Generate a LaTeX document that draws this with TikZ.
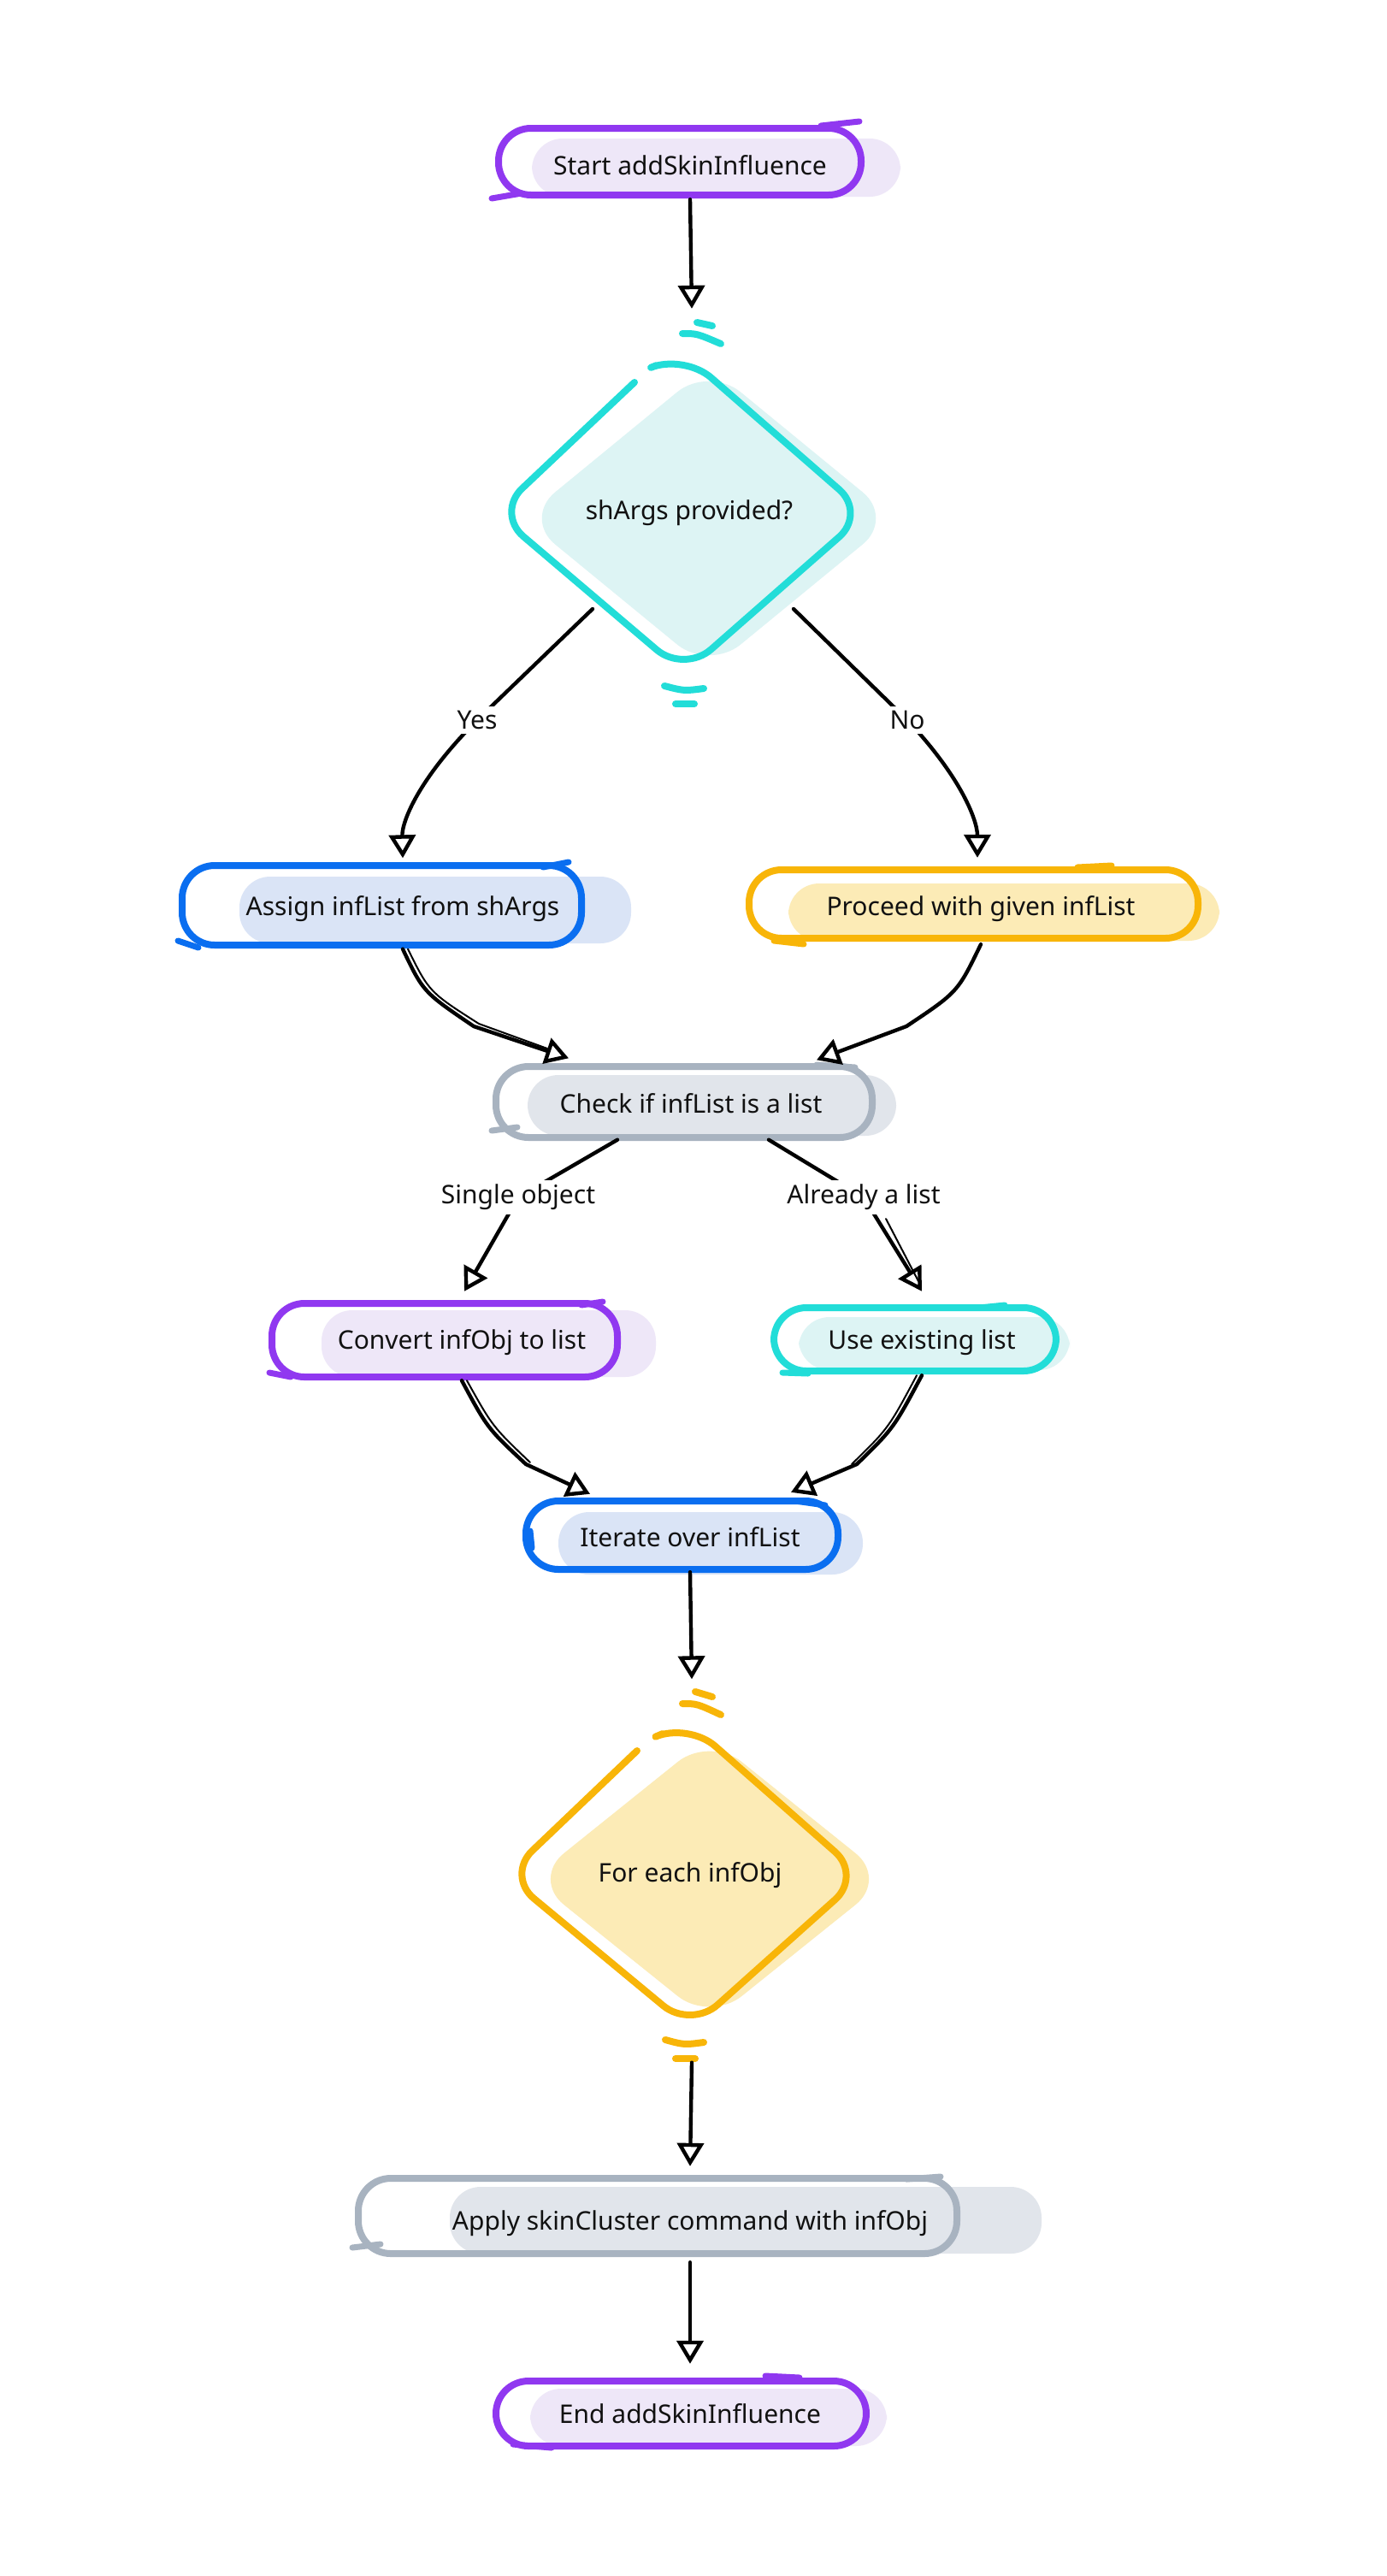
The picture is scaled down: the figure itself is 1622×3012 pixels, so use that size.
\documentclass[tikz,border=0pt]{standalone}
\usepackage{fontspec}
\setmainfont{Noto Sans}
\usetikzlibrary{arrows.meta,calc}
\definecolor{purS}{HTML}{9038F0}
\definecolor{purF}{HTML}{EEE7F8}
\definecolor{cyaS}{HTML}{22DDD8}
\definecolor{cyaF}{HTML}{DDF4F4}
\definecolor{bluS}{HTML}{0A6EF0}
\definecolor{bluF}{HTML}{DAE4F6}
\definecolor{yelS}{HTML}{F8B508}
\definecolor{yelF}{HTML}{FCEBB6}
\definecolor{graS}{HTML}{A8B3C0}
\definecolor{graF}{HTML}{E1E5EB}
\definecolor{ink}{HTML}{111111}
\begin{document}
\begin{tikzpicture}[x=1pt,y=-1pt,
  txt/.style={font=\fontsize{30}{34}\selectfont, text=ink, inner sep=0pt},
  lbl/.style={txt, fill=white, inner sep=5pt},
  arr/.style={draw=black, line width=4.4pt, line cap=round, line join=round,
    -{Triangle[open,length=27pt,width=31pt,line width=4.4pt]}},
  thin/.style={draw=black, line width=2pt, line cap=round},
  ol/.style={line width=8pt, line cap=round, line join=round, rounded corners=38pt},
  spur/.style={line width=7pt, line cap=round},
  tick/.style={line width=8pt, line cap=round},
  fl/.style={rounded corners=36pt}
]
\useasboundingbox (0,0) rectangle (1622,3012);
\fill[white] (0,0) rectangle (1622,3012);

% ---------- shapes (fills then outlines) ----------
% start
\fill[purF, fl] (622,162) rectangle (1053,230);
\draw[purS, ol] (583,150) rectangle (1007,228);
\draw[purS, spur] (960,147) -- (1005,142);
\draw[purS, spur] (575,232) -- (610,226);
% diamond 1
\fill[cyaF, rounded corners=48pt] (612,606) -- (829,428) -- (1046,606) -- (829,784) -- cycle;
\draw[cyaS, line width=8pt, line cap=round, line join=round, rounded corners=42pt]
  (768,427) -- (800,414) -- (1013,600) -- (800,787) -- (580,600) -- (742,447);
\draw[cyaS, tick] (815,377) -- (833,381);
\draw[cyaS, tick] (798,390) .. controls (815,390) .. (843,402);
\draw[cyaS, tick] (777,802) .. controls (800,808) .. (823,805);
\draw[cyaS, tick] (790,823) -- (812,823);
% assign
\fill[bluF, fl] (280,1025) rectangle (738,1103);
\draw[bluS, ol] (213,1012) rectangle (680,1105);
\draw[bluS, spur] (635,1014) -- (665,1008);
\draw[bluS, spur] (208,1100) -- (232,1108);
% proceed
\fill[yelF, fl] (922,1033) rectangle (1426,1100);
\draw[yelS, ol] (876,1017) rectangle (1401,1097);
\draw[yelS, spur] (1260,1014) -- (1300,1012);
\draw[yelS, spur] (905,1100) -- (940,1104);
% check
\fill[graF, fl] (617,1257) rectangle (1048,1328);
\draw[graS, ol] (580,1247) rectangle (1020,1330);
\draw[graS, spur] (955,1245) -- (1000,1248);
\draw[graS, spur] (575,1322) -- (605,1318);
% convert
\fill[purF, fl] (376,1532) rectangle (767,1610);
\draw[purS, ol] (318,1524) rectangle (722,1610);
\draw[purS, spur] (680,1526) -- (705,1522);
\draw[purS, spur] (315,1605) -- (340,1610);
% use
\fill[cyaF, fl] (934,1540) rectangle (1251,1602);
\draw[cyaS, ol] (905,1529) rectangle (1235,1603);
\draw[cyaS, spur] (1145,1529) -- (1175,1526);
\draw[cyaS, spur] (915,1605) -- (945,1606);
% iterate
\fill[bluF, fl] (653,1768) rectangle (1009,1841);
\draw[bluS, ol] (615,1755) rectangle (980,1835);
\draw[bluS, spur] (930,1755) -- (965,1760);
\draw[bluS, spur] (620,1790) -- (622,1810);
% diamond 2
\fill[yelF, rounded corners=48pt] (622,2197) -- (830,2030) -- (1038,2197) -- (830,2364) -- cycle;
\draw[yelS, line width=8pt, line cap=round, line join=round, rounded corners=42pt]
  (775,2027) -- (805,2014) -- (1008,2193) -- (808,2372) -- (592,2193) -- (745,2047);
\draw[yelS, tick] (813,1978) -- (833,1984);
\draw[yelS, tick] (798,1992) .. controls (815,1992) .. (843,2005);
\draw[yelS, tick] (778,2385) .. controls (800,2391) .. (823,2388);
\draw[yelS, tick] (790,2407) -- (813,2407);
% apply
\fill[graF, fl] (526,2557) rectangle (1218,2635);
\draw[graS, ol] (419,2547) rectangle (1119,2635);
\draw[graS, spur] (1060,2548) -- (1100,2545);
\draw[graS, spur] (412,2628) -- (445,2624);
% end
\fill[purF, fl] (620,2793) rectangle (1037,2860);
\draw[purS, ol] (580,2784) rectangle (1013,2860);
\draw[purS, spur] (895,2778) -- (935,2780);
\draw[purS, spur] (600,2858) -- (645,2862);

% ---------- nodes ----------
\node[txt, minimum width=424pt, minimum height=80pt] (start) at (807,193) {Start addSkinInfluence};
\node[txt, minimum width=433pt, minimum height=370pt] (d1) at (806,600) {shArgs provided?};
\node[txt, minimum width=467pt, minimum height=93pt] (assign) at (471,1063) {Assign infList from shArgs};
\node[txt, minimum width=525pt, minimum height=82pt] (proceed) at (1147,1063) {Proceed with given infList};
\node[txt, minimum width=440pt, minimum height=85pt] (check) at (808,1290) {Check if infList is a list};
\node[txt, minimum width=404pt, minimum height=88pt] (convert) at (540,1570) {Convert infObj to list};
\node[txt, minimum width=330pt, minimum height=76pt] (use) at (1078,1570) {Use existing list};
\node[txt, minimum width=365pt, minimum height=82pt] (iterate) at (807,1797) {Iterate over infList};
\node[txt, minimum width=416pt, minimum height=357pt] (d2) at (807,2193) {For each infObj};
\node[txt, minimum width=700pt, minimum height=90pt] (apply) at (807,2600) {Apply skinCluster command with infObj};
\node[txt, minimum width=433pt, minimum height=78pt] (end) at (807,2822) {End addSkinInfluence};

% ---------- connectors ----------
\draw[arr] (start.south) -- ($(d1.north)+(3,-54)$);
\draw[arr] ($(d1.center)+(-113,112)$) -- (558,842) .. controls (490,910) and (470,960) .. ($(assign.north)+(0,-13)$);
\draw[arr] ($(d1.center)+(122,112)$) -- (1061,842) .. controls (1125,910) and (1143,960) .. ($(proceed.north)+(-4,-19)$);
\draw[arr] (assign.south) .. controls (495,1160) .. (554,1200) -- ($(check.north)+(-143,-10)$);
\draw[thin] ($(assign.south)+(6,0)$) .. controls (502,1160) .. (560,1197) -- (640,1226);
\draw[arr] (proceed.south) .. controls (1120,1160) .. (1060,1200) -- ($(check.north)+(147,-8)$);
\draw[arr] ($(check.south)+(-86,0)$) -- (606,1400) -- ($(convert.north)+(3,-16)$);
\draw[arr] ($(check.south)+(91,0)$) -- (1010,1400) -- ($(use.north)+(0,-22)$);
\draw[thin] (1036,1425) -- (1074,1498);
\draw[arr] (convert.south) .. controls (570,1670) .. (615,1712) -- ($(iterate.north)+(-117,-9)$);
\draw[thin] ($(convert.south)+(6,0)$) .. controls (576,1668) .. (620,1710);
\draw[arr] (use.south) .. controls (1045,1670) .. (1002,1712) -- ($(iterate.north)+(118,-11)$);
\draw[thin] ($(use.south)+(-6,0)$) .. controls (1039,1670) .. (996,1712);
\draw[arr] (iterate.south) -- ($(d2.north)+(2,-51)$);
\draw[arr] ($(d2.south)+(2,40)$) -- ($(apply.north)+(0,-22)$);
\draw[arr] (apply.south) -- ($(end.north)+(0,-19)$);

% ---------- edge labels ----------
\node[lbl] (lyes) at (558,842) {Yes};
\node[lbl] (lno) at (1061,842) {No};
\node[lbl] (lsingle) at (606,1400) {Single object};
\node[lbl] (lalready) at (1010,1400) {Already a list};
\end{tikzpicture}
\end{document}
